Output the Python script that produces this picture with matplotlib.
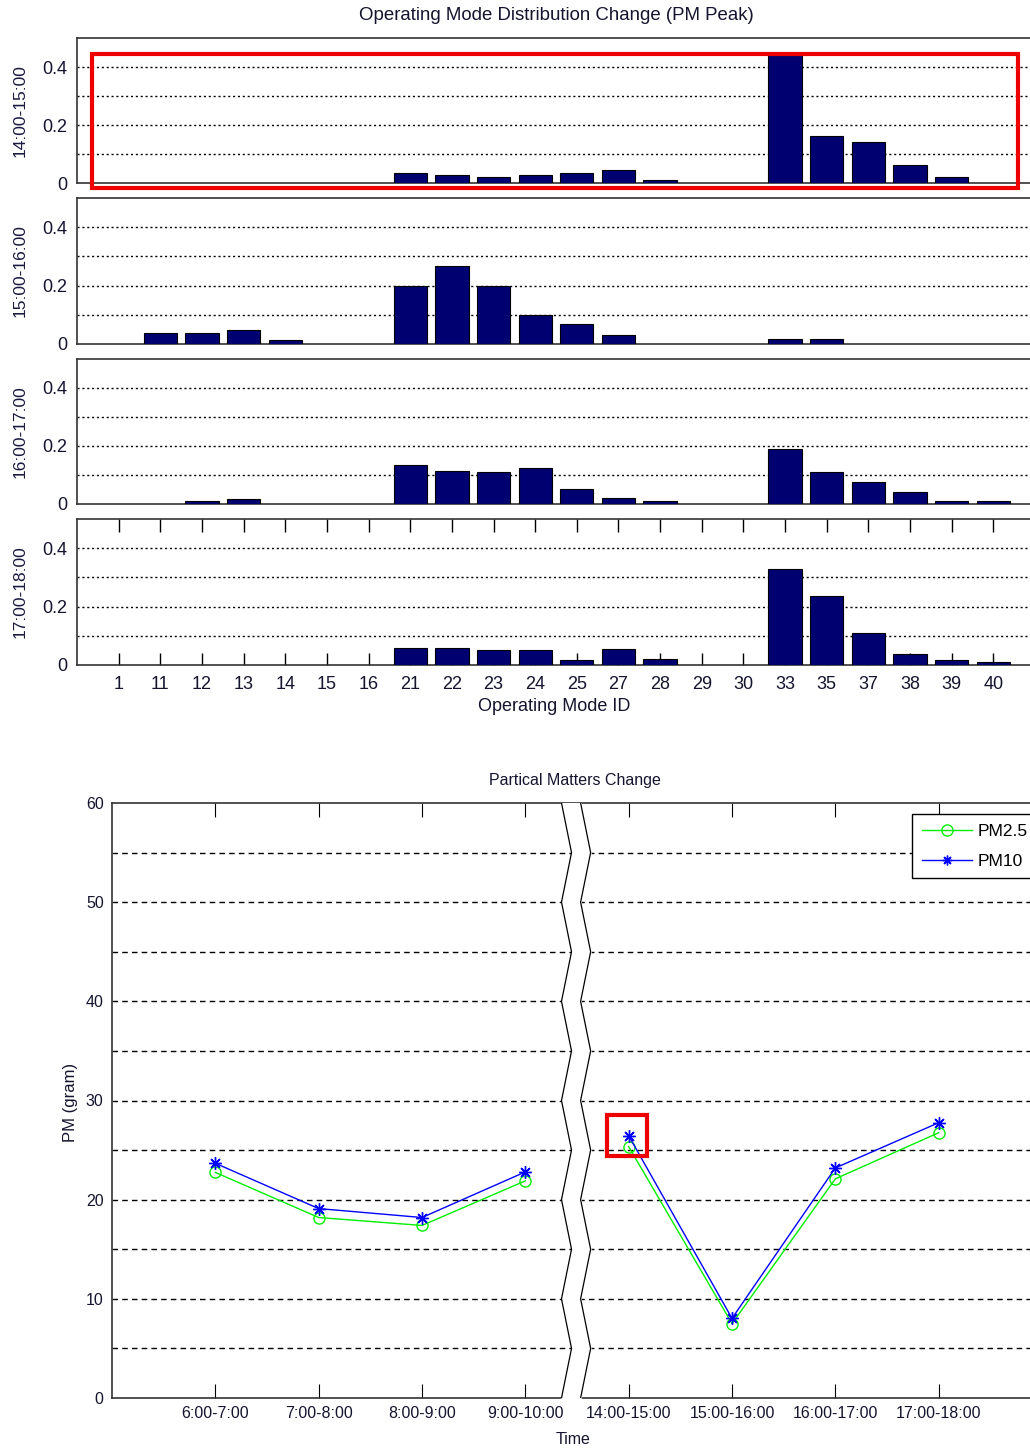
import matplotlib
matplotlib.use('Agg')
import matplotlib.pyplot as plt
from matplotlib.patches import Rectangle
from matplotlib.lines import Line2D
import numpy as np

plt.rcParams['font.family'] = ['Liberation Sans', 'DejaVu Sans']

# ---------------- data ----------------
mode_ids = ['1', '11', '12', '13', '14', '15', '16', '21', '22', '23', '24', '25',
            '27', '28', '29', '30', '33', '35', '37', '38', '39', '40']
panel_labels = ['14:00-15:00', '15:00-16:00', '16:00-17:00', '17:00-18:00']
dist_1400 = [0, 0, 0, 0, 0, 0, 0, 0.035, 0.026, 0.019, 0.026, 0.035, 0.046, 0.010,
             0, 0, 0.448, 0.161, 0.141, 0.062, 0.021, 0]
dist_1500 = [0, 0.037, 0.037, 0.048, 0.012, 0, 0, 0.199, 0.268, 0.199, 0.101, 0.067, 0.032, 0,
             0, 0, 0.017, 0.017, 0, 0, 0, 0]
dist_1600 = [0, 0, 0.010, 0.016, 0, 0, 0, 0.136, 0.115, 0.110, 0.125, 0.050, 0.019, 0.010,
             0, 0, 0.190, 0.110, 0.075, 0.040, 0.010, 0.010]
dist_1700 = [0, 0, 0, 0, 0, 0, 0, 0.057, 0.057, 0.050, 0.050, 0.016, 0.056, 0.021,
             0, 0, 0.330, 0.236, 0.111, 0.036, 0.016, 0.010]

time_labels = ['6:00-7:00', '7:00-8:00', '8:00-9:00', '9:00-10:00',
               '14:00-15:00', '15:00-16:00', '16:00-17:00', '17:00-18:00']
pm25 = [22.75, 18.2, 17.4, 21.9, 25.35, 7.5, 22.1, 26.75]
pm10 = [23.67, 19.1, 18.2, 22.8, 26.45, 8.03, 23.2, 27.76]

# ---------------- figure ----------------
W, H = 1030, 1452
fig = plt.figure(figsize=(W / 100, H / 100), dpi=100)
txt_col = '#14142e'


def ax_px(l, t, r, b):
    return fig.add_axes([l / W, 1 - b / H, (r - l) / W, (b - t) / H])


panels = [(38, 183), (198, 344), (359, 504), (519, 665)]
dists = [dist_1400, dist_1500, dist_1600, dist_1700]
x = np.arange(1, len(mode_ids) + 1)

for i, ((t, b), vals) in enumerate(zip(panels, dists)):
    ax = ax_px(77, t, 1035, b)
    v = np.array(vals)
    m = v > 0
    ax.bar(x[m], v[m], width=0.8, color='#000070', edgecolor='black', linewidth=0.8, zorder=3)
    ax.set_xlim(0, 23)
    ax.set_ylim(0, 0.5)
    for g in [0.1, 0.2, 0.3, 0.4]:
        ax.axhline(g, color='black', ls=(0, (1.5, 2)), lw=1.0, zorder=1)
    ax.set_yticks([0, 0.2, 0.4])
    ax.set_yticklabels(['0', '0.2', '0.4'])
    ax.tick_params(axis='y', length=0, pad=7, labelsize=13, labelcolor=txt_col)
    ax.spines['right'].set_visible(False)
    for s in ['left', 'top', 'bottom']:
        ax.spines[s].set_linewidth(1.2)
        ax.spines[s].set_color('#333333')
    if i < 3:
        ax.set_xticks([])
    else:
        ax.set_xticks(x)
        ax.set_xticklabels(mode_ids)
        ax.tick_params(axis='x', direction='in', top=True, bottom=True, length=9,
                       pad=8, labelsize=13, labelcolor=txt_col, width=1)
    fig.text(20 / W, 1 - ((t + b) / 2) / H, panel_labels[i], rotation=90,
             ha='center', va='center', fontsize=12.5, color='#1a1a40')

fig.text(556 / W, 1 - 15 / H, 'Operating Mode Distribution Change (PM Peak)',
         ha='center', va='center', fontsize=13.4, color=txt_col)
fig.text(554 / W, 1 - 707 / H, 'Operating Mode ID', ha='center', va='center',
         fontsize=13, color=txt_col)

# ---------------- bottom chart ----------------
ax2 = ax_px(112, 803, 1042, 1398)
xt = np.arange(1, len(time_labels) + 1)
ax2.set_xlim(0, 9)
ax2.set_ylim(0, 60)
for g in range(5, 60, 5):
    ax2.axhline(g, color='black', ls=(0, (4, 3)), lw=1.0, zorder=1)
ax2.set_yticks(range(0, 61, 10))
ax2.set_xticks(xt)
ax2.set_xticklabels(time_labels)
ax2.tick_params(axis='x', direction='in', top=True, bottom=True, length=10, pad=6,
                labelsize=11.5, labelcolor=txt_col)
ax2.tick_params(axis='y', length=0, pad=6, labelsize=11.5, labelcolor=txt_col)
ax2.spines['right'].set_visible(False)
for s in ['left', 'top', 'bottom']:
    ax2.spines[s].set_linewidth(1.2)
    ax2.spines[s].set_color('#333333')

# axis break (zig-zag)
yb = np.arange(60, -1, -5)
xl = np.array([4.35 if (yy % 10 == 0) else 4.447 for yy in yb])
xr = xl + 0.185
ax2.fill_betweenx(yb, xl, xr, color='white', zorder=4)
ax2.plot(xl, yb, color='black', lw=0.9, zorder=5)
ax2.plot(xr, yb, color='black', lw=0.9, zorder=5)

star = (8, 2, 0)
for seg in [slice(0, 4), slice(4, 8)]:
    ax2.plot(xt[seg], pm25[seg], color='#00ee00', lw=1.0, marker='o', ms=8,
             mfc='none', mec='#00ee00', mew=1.0, zorder=6)
    ax2.plot(xt[seg], pm10[seg], color='#0000ff', lw=1.0, marker=star, ms=9,
             mec='#0000ff', mew=1.0, zorder=7)

h1 = Line2D([], [], color='#00ee00', lw=1.0, marker='o', ms=8, mfc='none', mec='#00ee00')
h2 = Line2D([], [], color='#0000ff', lw=1.0, marker=star, ms=7, mec='#0000ff', mew=1.0)
leg = ax2.legend([h1, h2], ['PM2.5', 'PM10'], loc='upper left',
                 bbox_to_anchor=(912 / W, 1 - 814 / H), bbox_transform=fig.transFigure,
                 borderaxespad=0, frameon=True, fancybox=False, framealpha=1,
                 edgecolor='black', fontsize=12.5, handlelength=2.9, handletextpad=0.35,
                 borderpad=0.55, labelspacing=0.85)
leg.get_frame().set_linewidth(1.0)
leg.set_zorder(10)

fig.text(575 / W, 1 - 781 / H, 'Partical Matters Change', ha='center', va='center',
         fontsize=11.5, color=txt_col)
fig.text(573 / W, 1 - 1440 / H, 'Time', ha='center', va='center', fontsize=11.5,
         color=txt_col)
fig.text(70 / W, 1 - 1102 / H, 'PM (gram)', rotation=90, ha='center', va='center',
         fontsize=12, color=txt_col)

# ---------------- red highlight boxes ----------------
fig.patches.append(Rectangle((92 / W, 1 - 188 / H), (1018 - 92) / W, (188 - 54) / H,
                             transform=fig.transFigure, fill=False, ec='#ee0000', lw=3,
                             zorder=20))
fig.patches.append(Rectangle((607 / W, 1 - 1156 / H), (647 - 607) / W, (1156 - 1115) / H,
                             transform=fig.transFigure, fill=False, ec='#ee0000', lw=3,
                             zorder=20))

fig.savefig('out.png', dpi=100)
